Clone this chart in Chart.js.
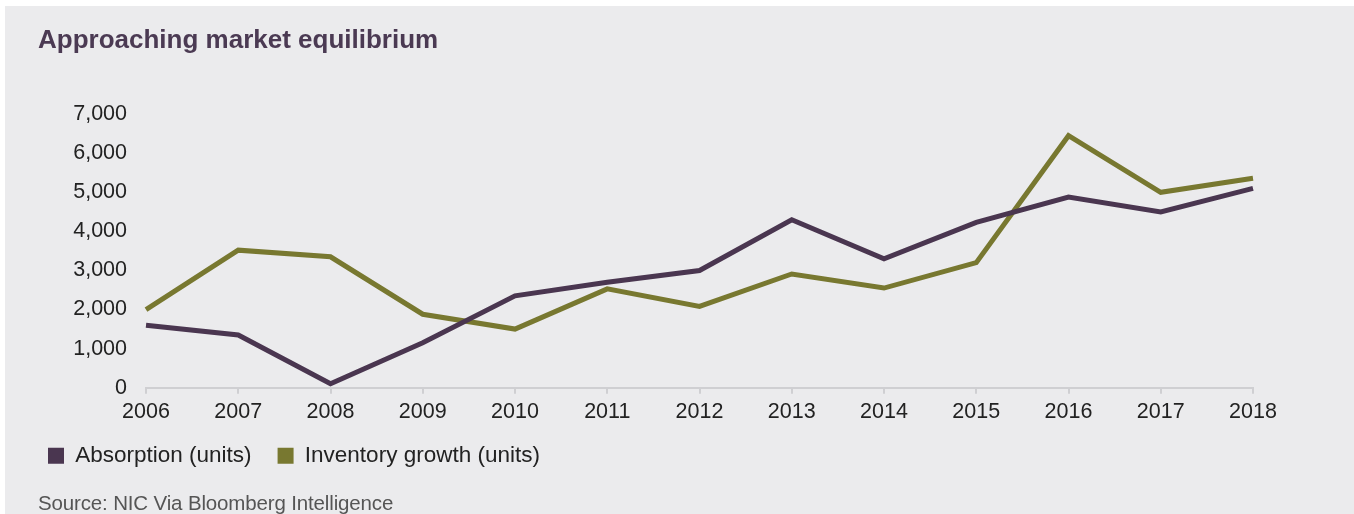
<!DOCTYPE html>
<html>
<head>
<meta charset="utf-8">
<script src="https://cdn.jsdelivr.net/npm/chart.js@4.4.1/dist/chart.umd.min.js"></script>
<style>
  html, body { margin: 0; padding: 0; background: #ffffff; }
  #panel { position: absolute; left: 5px; top: 6px; width: 1349px; height: 508px; background: #ebebed; overflow: hidden; }
  #wrap { position: absolute; left: 0; top: 0; width: 1349px; height: 508px; }
  #source { position: absolute; left: 33px; top: 485px; font-family: "Liberation Sans", Arial, sans-serif; font-size: 20.5px; color: #555555; white-space: nowrap; letter-spacing: -0.15px; }
</style>
</head>
<body>
<div id="panel">
  <div id="wrap"><canvas id="c"></canvas></div>
  <div id="source">Source: NIC Via Bloomberg Intelligence</div>
</div>
<script>
const titleText = "Approaching market equilibrium";
const years = ["2006","2007","2008","2009","2010","2011","2012","2013","2014","2015","2016","2017","2018"];
const absorption = [1600, 1350, 100, 1150, 2350, 2700, 3000, 4300, 3300, 4230, 4880, 4500, 5100];
const inventoryGrowth = [2000, 3520, 3350, 1880, 1500, 2530, 2080, 2910, 2550, 3200, 6450, 5000, 5360];
const seriesNames = ["Absorption (units)", "Inventory growth (units)"];
const seriesColors = ["#4a3650", "#787830"];

const FONT = "'Liberation Sans', Arial, sans-serif";

const shiftTitle = {
  id: 'shiftTitle',
  afterLayout(chart) {
    if (chart.titleBlock) { chart.titleBlock.left += 16; }
  }
};

new Chart(document.getElementById('c'), {
  type: 'line',
  plugins: [shiftTitle],
  data: {
    labels: years,
    datasets: [
      { label: seriesNames[0], data: absorption, borderColor: seriesColors[0], backgroundColor: seriesColors[0], borderWidth: 5, pointRadius: 0, tension: 0, borderJoinStyle: 'miter' },
      { label: seriesNames[1], data: inventoryGrowth, borderColor: seriesColors[1], backgroundColor: seriesColors[1], borderWidth: 5, pointRadius: 0, tension: 0, borderJoinStyle: 'miter' }
    ]
  },
  options: {
    responsive: true,
    maintainAspectRatio: false,
    animation: false,
    layout: { padding: { left: 17, right: 101, top: 0, bottom: 37 } },
    plugins: {
      title: {
        display: true, text: titleText, align: 'start', color: '#4b3a53',
        font: { family: FONT, size: 26, weight: 'bold' },
        padding: { top: 19, bottom: 58 }
      },
      legend: {
        display: true, position: 'bottom', align: 'start',
        labels: {
          boxWidth: 16, boxHeight: 16, padding: 26, color: '#222222',
          font: { family: FONT, size: 22.5 },
          generateLabels: (chart) => {
            const items = Chart.defaults.plugins.legend.labels.generateLabels(chart);
            items.forEach(it => { it.lineWidth = 0; it.strokeStyle = 'transparent'; });
            return items;
          }
        }
      },
      tooltip: { enabled: false }
    },
    scales: {
      x: {
        offset: false,
        afterFit: (s) => { s.height -= 11; },
        grid: { display: true, drawOnChartArea: false, drawTicks: true, tickLength: 6, color: '#cfcfd2', lineWidth: 2 },
        border: { display: true, color: '#cfcfd2', width: 2 },
        ticks: { color: '#222222', font: { family: FONT, size: 21.5 }, padding: 5, maxRotation: 0, autoSkip: false }
      },
      y: {
        min: 0, max: 7000,
        afterFit: (s) => { s.width = 124; },
        grid: { display: false },
        border: { display: false },
        ticks: {
          stepSize: 1000, color: '#222222', padding: 11,
          font: { family: FONT, size: 21.5 },
          callback: (v) => v.toLocaleString('en-US')
        }
      }
    }
  }
});
</script>
</body>
</html>
